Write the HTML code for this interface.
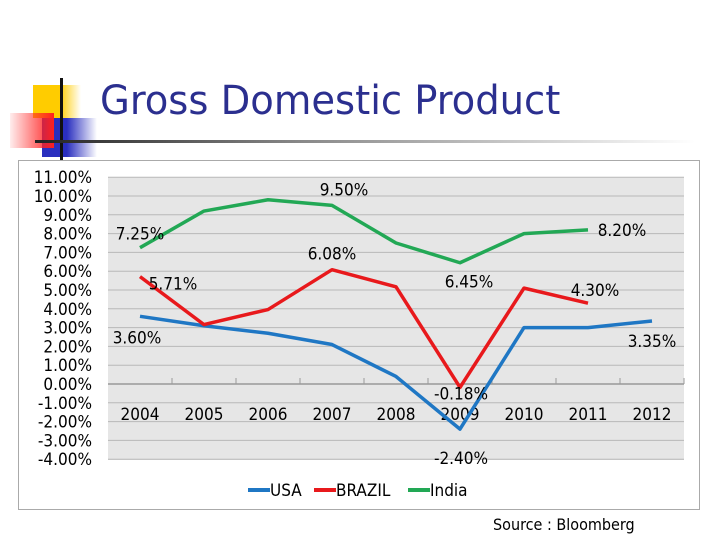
<!DOCTYPE html>
<html><head><meta charset="utf-8"><style>
body{margin:0;width:720px;height:540px;background:#fff;overflow:hidden;font-family:"DejaVu Sans","Liberation Sans",sans-serif}
.abs{position:absolute}
</style></head><body>
<div class="abs" style="left:33px;top:85px;width:48px;height:33px;background:linear-gradient(to right,#ffcc00 55%,rgba(255,204,0,0))"></div>
<div class="abs" style="left:42px;top:118px;width:55px;height:39px;background:linear-gradient(to right,#2a2fbf 45%,rgba(42,47,191,0))"></div>
<div class="abs" style="left:10px;top:113px;width:44px;height:35px;background:linear-gradient(to left,#ff2020,rgba(255,80,80,0.1))"></div>
<div class="abs" style="left:60px;top:78px;width:3px;height:82px;background:#111"></div>
<div class="abs" style="left:35px;top:140px;width:660px;height:3px;background:linear-gradient(to right,#222,#888 40%,rgba(200,200,200,0))"></div>
<div class="abs" style="left:100px;top:78px;font-size:40px;color:#2b2f8f;font-family:'DejaVu Sans Condensed','DejaVu Sans',sans-serif;transform:scaleX(1.07);transform-origin:left;white-space:nowrap">Gross Domestic Product</div>
<svg class="abs" style="left:0;top:0" width="720" height="540">
<rect x="18.5" y="160.5" width="681" height="349" fill="#fff" stroke="#aaa"/>
<rect x="108" y="177" width="576" height="283" fill="#e6e6e6"/>
<g id="grid"></g><g id="lines"></g><g id="labels"></g>
<g font-size="17" font-family="DejaVu Sans Condensed, DejaVu Sans, sans-serif">
<line x1="248" y1="490" x2="270" y2="490" stroke="#1f77c4" stroke-width="4"/>
<text x="270" y="496">USA</text>
<line x1="314" y1="490" x2="336" y2="490" stroke="#e8191c" stroke-width="4"/>
<text x="336" y="496">BRAZIL</text>
<line x1="408" y1="490" x2="430" y2="490" stroke="#22a855" stroke-width="4"/>
<text x="430" y="496">India</text>
</g>
</svg>
<div class="abs" style="left:493px;top:515px;font-size:16px;font-family:'DejaVu Sans Condensed','DejaVu Sans',sans-serif">Source : Bloomberg</div>
<script>
const years=["2004","2005","2006","2007","2008","2009","2010","2011","2012"];
const usa=[3.6,3.1,2.7,2.1,0.4,-2.4,3.0,3.0,3.35];
const brazil=[5.71,3.16,3.96,6.08,5.17,-0.18,5.1,4.3,null];
const india=[7.25,9.2,9.8,9.5,7.5,6.45,8.0,8.2,null];
const yTicks=[11,10,9,8,7,6,5,4,3,2,1,0,-1,-2,-3,-4];
const ns="http://www.w3.org/2000/svg";
const X=i=>140+i*64, Y=v=>384-v*18.8;
const grid=document.getElementById('grid'),lines=document.getElementById('lines'),labels=document.getElementById('labels');
function mk(tag,attrs,parent,txt){const e=document.createElementNS(ns,tag);for(const k in attrs)e.setAttribute(k,attrs[k]);if(txt!==undefined)e.textContent=txt;parent.appendChild(e);return e;}
const F="DejaVu Sans Condensed, DejaVu Sans, sans-serif";
yTicks.forEach(v=>{
 if(v!==0){const l=mk('line',{x1:108,x2:684,y1:Y(v),y2:Y(v),stroke:'#b8b8b8','stroke-width':1},grid);
 
 }
 const t=mk('text',{x:92,y:Y(v)+6,'text-anchor':'end','font-size':17,'font-family':F},grid,v.toFixed(2)+'%');
 
 
});
const ax=mk('line',{x1:108,x2:684,y1:Y(0),y2:Y(0),stroke:'#999','stroke-width':1.5},grid);


years.forEach((y,i)=>{
 const tk=mk('line',{x1:X(i)+32,x2:X(i)+32,y1:Y(0)-6,y2:Y(0),stroke:'#999'},grid);
 
 
 const t=mk('text',{x:X(i),y:420,'text-anchor':'middle','font-size':17,'font-family':F},grid,y);
 
 
});
function series(data,color,name){
 const pts=[];data.forEach((v,i)=>{if(v!==null)pts.push(X(i)+','+Y(v));});
 const p=mk('polyline',{points:pts.join(' '),fill:'none',stroke:color,'stroke-width':3.5,'stroke-linejoin':'round'},lines);
 
 
}
series(usa,'#1f77c4','usa-line');series(brazil,'#e8191c','brazil-line');series(india,'#22a855','india-line');
function lab(arr,i,dx,dy){const v=arr[i];
 const t=mk('text',{x:X(i)+dx,y:Y(v)+dy,'text-anchor':'middle','font-size':17,'font-family':F},labels,v.toFixed(2)+'%');
 
 }
lab(india,0,0,-8);lab(india,3,12,-10);lab(india,5,9,25);lab(india,7,34,6);
lab(brazil,0,33,13);lab(brazil,3,0,-10);lab(brazil,5,1,12);lab(brazil,7,7,-7);
lab(usa,0,-3,27);lab(usa,5,1,35);lab(usa,8,0,26);
</script>
</body></html>
